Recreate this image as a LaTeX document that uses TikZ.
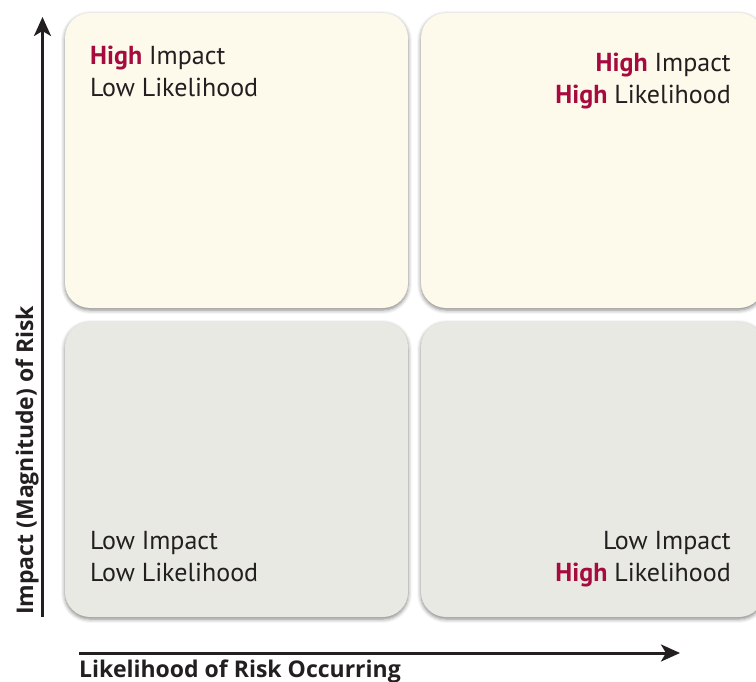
\documentclass[tikz,border=0pt]{standalone}
\usepackage{fontspec}
\setmainfont{PT Sans}
\newfontfamily\axisfont{Open Sans}
\usetikzlibrary{arrows.meta,shadows.blur}
\definecolor{cream}{HTML}{FDF9EB}
\definecolor{sage}{HTML}{E8E9E2}
\definecolor{riskred}{HTML}{A50B3E}
\definecolor{ink}{HTML}{231F20}
\tikzset{
  quad/.style={rectangle, rounded corners=25pt, minimum width=343pt, minimum height=295pt, inner sep=0pt,
    blur shadow={shadow xshift=0pt, shadow yshift=-2pt, shadow blur radius=4pt, shadow opacity=50}},
  lbl/.style={inner sep=0pt, text=ink, font=\fontsize{26}{30}\selectfont},
  axislbl/.style={inner sep=0pt, text=ink, font=\axisfont\bfseries\fontsize{23}{27}\selectfont},
  axis/.style={line width=3pt, draw=ink, -{Stealth[length=19pt, width=17pt, inset=5pt]}},
}
\newcommand{\hi}{\textcolor{riskred}{\bfseries High}}
\begin{document}
\begin{tikzpicture}[x=1pt,y=-1pt]
\useasboundingbox (0,0) rectangle (756,682);
\clip (0,0) rectangle (756,682);
\node[quad, fill=cream] (tl) at (236.5,160.5) {};
\node[quad, fill=cream] (tr) at (592.5,160.5) {};
\node[quad, fill=sage] (bl) at (236.5,469.5) {};
\node[quad, fill=sage] (br) at (592.5,469.5) {};
\node[lbl, anchor=base west] (tl1) at (90,65) {\hi{} Impact};
\node[lbl, anchor=base west] (tl2) at (90,97) {Low Likelihood};
\node[lbl, anchor=base east] (tr1) at (731,72) {\hi{} Impact};
\node[lbl, anchor=base east] (tr2) at (731,104) {\hi{} Likelihood};
\node[lbl, anchor=base west] (bl1) at (90,549) {Low Impact};
\node[lbl, anchor=base west] (bl2) at (90,581) {Low Likelihood};
\node[lbl, anchor=base east] (br1) at (731,549) {Low Impact};
\node[lbl, anchor=base east] (br2) at (731,581) {\hi{} Likelihood};
\coordinate (ybot) at (42.5,617);
\coordinate (ytop) at (42.5,17);
\coordinate (xleft) at (79,653);
\coordinate (xright) at (680,653);
\draw[axis] (ybot) -- (ytop);
\draw[axis] (xleft) -- (xright);
\node[axislbl, anchor=base west] (xl) at (79,677) {Likelihood of Risk Occurring};
\node[axislbl, anchor=base west, rotate=90] (yl) at (33,615) {Impact (Magnitude) of Risk};
\end{tikzpicture}
\end{document}
